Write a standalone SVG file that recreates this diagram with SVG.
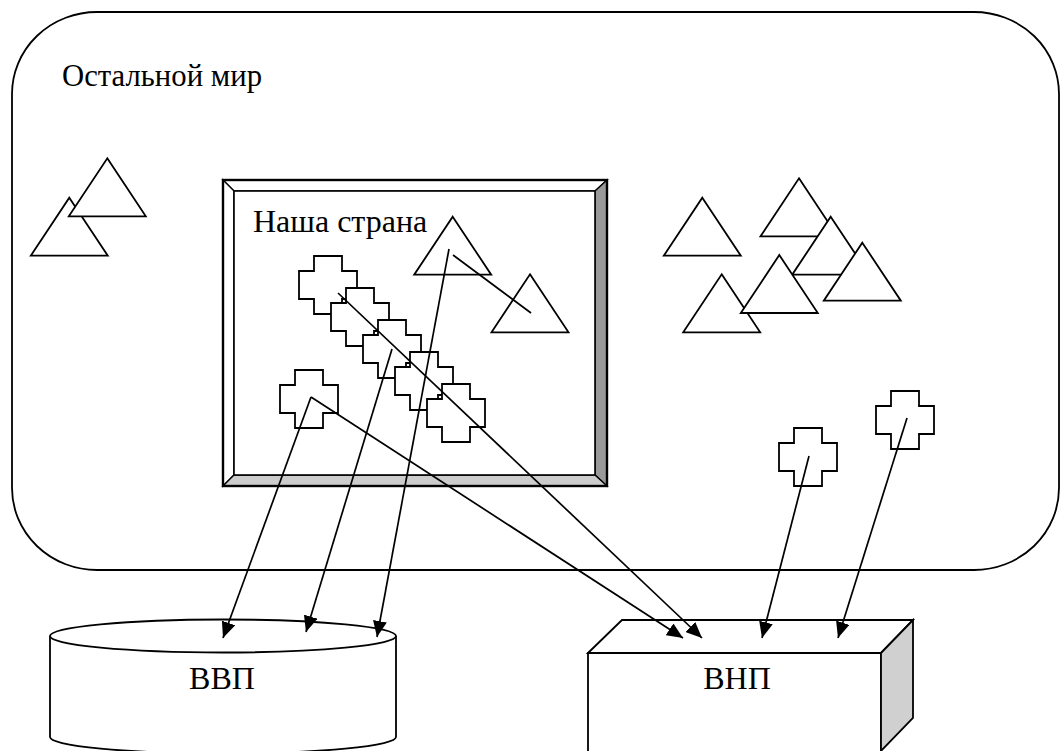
<svg xmlns="http://www.w3.org/2000/svg" xmlns:xlink="http://www.w3.org/1999/xlink" width="1061" height="751" viewBox="0 0 1061 751">
<style>
.ln{fill:none;stroke:#000;stroke-width:1.7}
.sh{fill:#fff;stroke:#000;stroke-width:1.8;stroke-linejoin:miter}
.tx{font-size:32px;fill:#000}
.arr{fill:none;stroke:#000;stroke-width:1.7;marker-end:url(#ah)}
</style>
<defs>
<marker id="ah" markerUnits="userSpaceOnUse" markerWidth="18" markerHeight="14" refX="16" refY="7" orient="auto">
<path d="M0,0 L16,7 L0,14 Z" fill="#000"/>
</marker>
<path id="tri" d="M0,0 L38.5,58 L-38.5,58 Z"/>
<path id="crs" d="M15,0 H43 V15 H58 V43 H43 V58 H15 V43 H0 V15 H15 Z"/>
</defs>

<g id="world">
<rect x="12" y="12" width="1047" height="558" rx="85" ry="82" class="sh" stroke-width="1.4"/>
<text class="tx" font-family="'Liberation Serif', 'Times New Roman', 'DejaVu Serif', serif" x="62" y="86" textLength="200" lengthAdjust="spacingAndGlyphs">Остальной мир</text>
</g>

<g id="world-triangles">
<use xlink:href="#tri" href="#tri" x="69.3" y="197.7" class="sh"/>
<use xlink:href="#tri" href="#tri" x="107.3" y="158.3" class="sh"/>
<use xlink:href="#tri" href="#tri" x="702.3" y="197.7" class="sh"/>
<use xlink:href="#tri" href="#tri" x="799" y="178.3" class="sh"/>
<use xlink:href="#tri" href="#tri" x="830.7" y="216.7" class="sh"/>
<use xlink:href="#tri" href="#tri" x="862.3" y="242.7" class="sh"/>
<use xlink:href="#tri" href="#tri" x="721.7" y="274.3" class="sh"/>
<use xlink:href="#tri" href="#tri" x="779.3" y="255" class="sh"/>
</g>

<g id="country">
<rect x="223" y="180" width="384" height="306" fill="#fff"/>
<polygon points="223,180 607,180 595,191 234,191" fill="#fff" stroke="#000" stroke-width="1.4"/>
<polygon points="223,180 234,191 234,475 223,486" fill="#fff" stroke="#000" stroke-width="1.4"/>
<polygon points="607,180 607,486 595,475 595,191" fill="#999" stroke="#000" stroke-width="1.4"/>
<polygon points="223,486 234,475 595,475 607,486" fill="#ccc" stroke="#000" stroke-width="1.4"/>
<rect x="223" y="180" width="384" height="306" fill="none" stroke="#000" stroke-width="2.4"/>
<rect x="234" y="191" width="361" height="284" fill="#fff" stroke="#000" stroke-width="1.6"/>
<text class="tx" font-family="'Liberation Serif', 'Times New Roman', 'DejaVu Serif', serif" x="253" y="232">Наша страна</text>
</g>

<g id="country-triangles">
<use xlink:href="#tri" href="#tri" x="452.7" y="216.7" class="sh"/>
<use xlink:href="#tri" href="#tri" x="530" y="274.3" class="sh"/>
</g>

<g id="crosses">
<use xlink:href="#crs" href="#crs" x="299" y="256" class="sh"/>
<use xlink:href="#crs" href="#crs" x="331" y="288" class="sh"/>
<use xlink:href="#crs" href="#crs" x="363" y="320" class="sh"/>
<use xlink:href="#crs" href="#crs" x="395" y="352" class="sh"/>
<use xlink:href="#crs" href="#crs" x="427" y="384" class="sh"/>
<use xlink:href="#crs" href="#crs" x="280" y="370" class="sh"/>
<use xlink:href="#crs" href="#crs" x="779" y="428" class="sh"/>
<use xlink:href="#crs" href="#crs" x="876" y="391" class="sh"/>
</g>

<g id="gdp">
<path d="M50,636 V737 A173,16.5 0 0 0 396,737 V636" class="sh"/>
<ellipse cx="223" cy="636" rx="173" ry="16.5" class="sh"/>
<text class="tx" font-family="'Liberation Serif', 'Times New Roman', 'DejaVu Serif', serif" x="222" y="689" text-anchor="middle">ВВП</text>
</g>

<g id="gnp">
<rect x="588" y="653" width="293" height="110" class="sh"/>
<polygon points="588,653 622,620 913,620 881,653" class="sh"/>
<polygon points="881,653 913,620 913,718 881,751" fill="#d0d0d0" stroke="#000" stroke-width="1.8"/>
<text class="tx" font-family="'Liberation Serif', 'Times New Roman', 'DejaVu Serif', serif" x="737" y="689" text-anchor="middle">ВНП</text>
</g>

<g id="connectors">
<path class="arr" d="M338,293 L702,638"/>
<path class="arr" d="M311,397 L683,638"/>
<path class="arr" d="M311,397 L223,638"/>
<path class="arr" d="M392,349 L306,632"/>
<path class="arr" d="M449,249 L377,637"/>
<path class="ln" d="M453,255 L531,313"/>
<path class="arr" d="M809,456 L762,638"/>
<path class="arr" d="M907,418 L838,638"/>
</g>
</svg>
